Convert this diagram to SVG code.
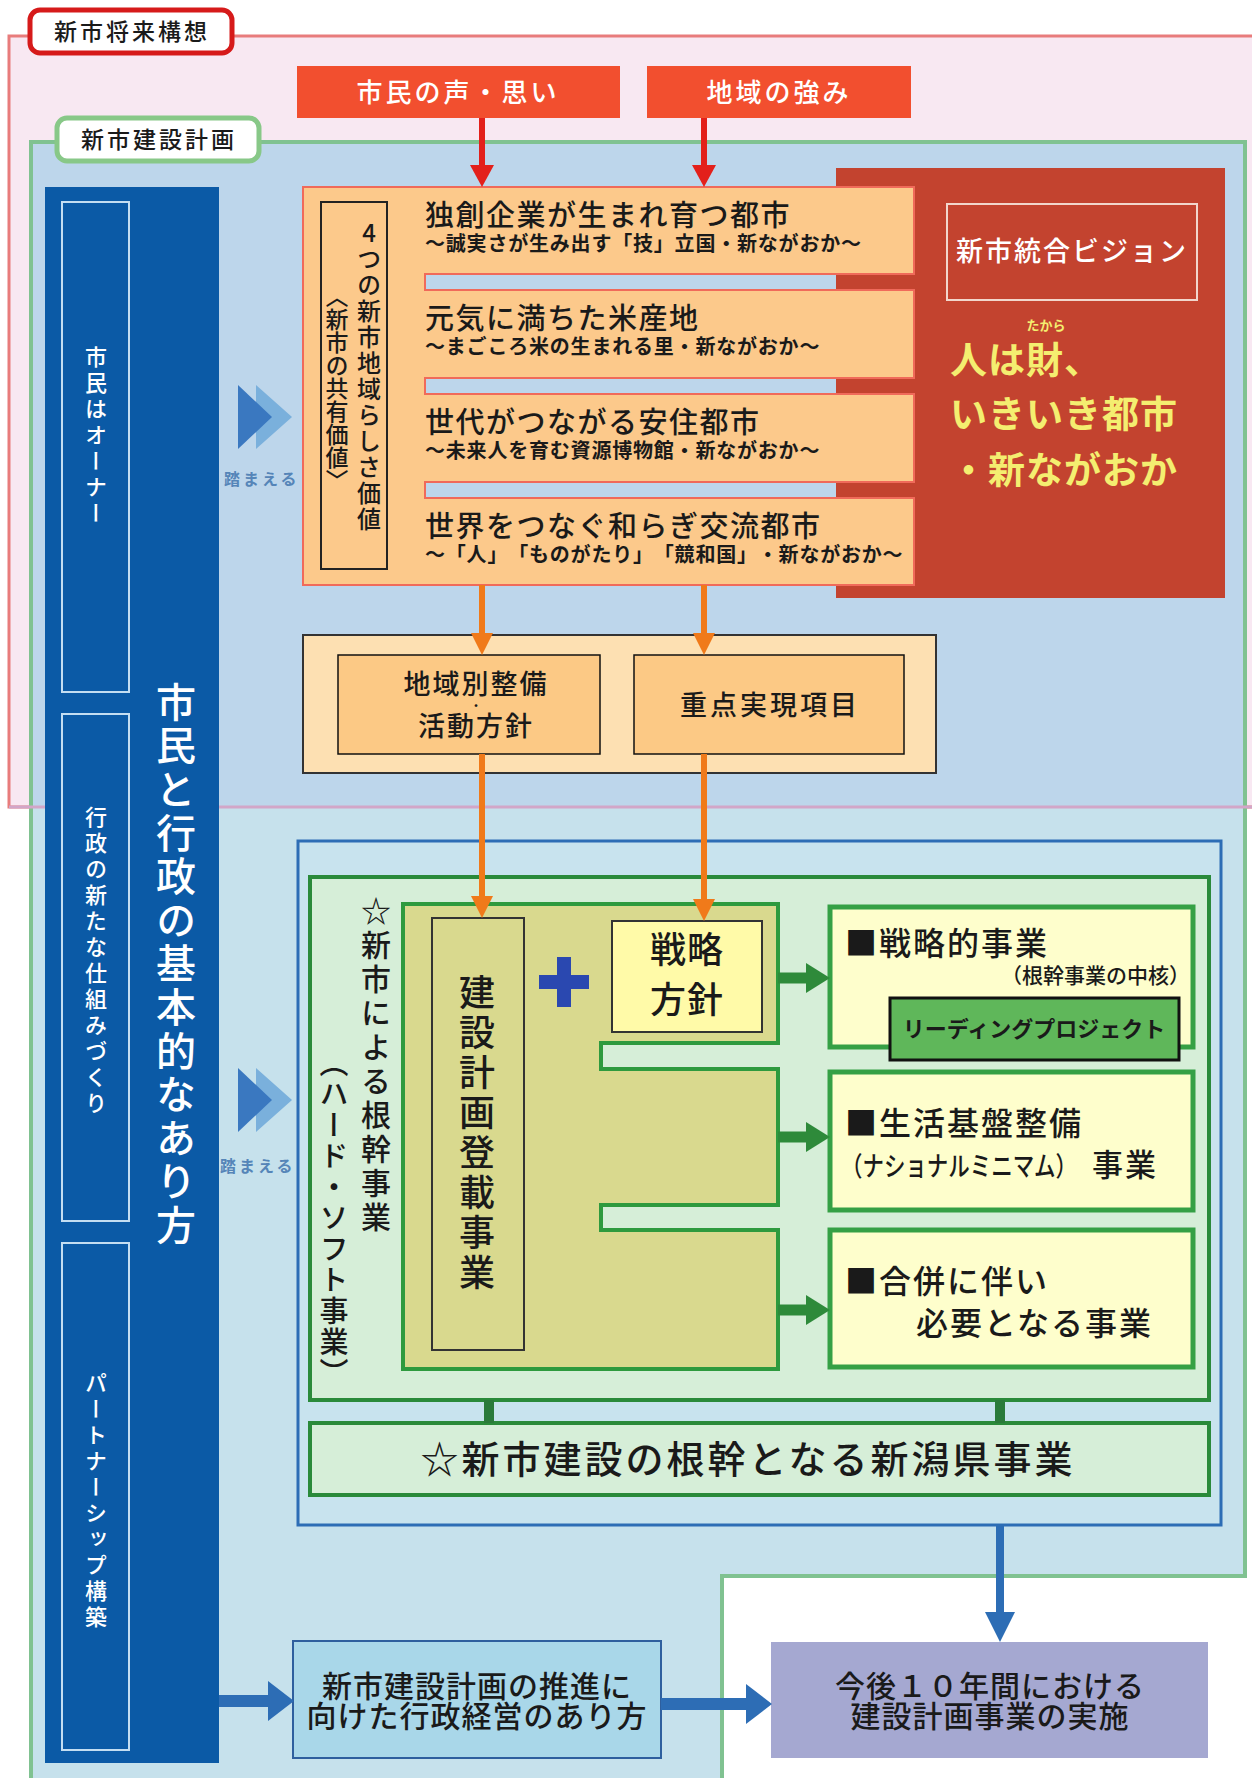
<svg xmlns="http://www.w3.org/2000/svg" width="1252" height="1778" viewBox="0 0 1252 1778">
<defs>
<style>
text{font-family:'Noto Sans CJK JP','Noto Sans CJK SC',sans-serif;fill:#1a1a1a;font-weight:500;text-spacing-trim:space-all;}
.v{writing-mode:vertical-rl;}
.up{text-orientation:upright;}
.w{fill:#fff;}
.b{font-weight:bold;}
.row{fill:#fcc98b;stroke:#f06a5a;stroke-width:2;}
.rt{font-size:29px;letter-spacing:1.5px;}
.rs{font-size:20px;font-weight:bold;letter-spacing:0.8px;}
.rbox{fill:#fefecc;stroke:#35a045;stroke-width:5;}
.rb{font-size:32px;letter-spacing:2px;}
.yel{fill:#f4ee70;font-weight:bold;}
.fumaeru{font-size:16px;font-weight:bold;letter-spacing:3px;fill:#5585b8;}
.ar-red{stroke:#e3201b;stroke-width:6;fill:none;}
.ar-or{stroke:#f07a1a;stroke-width:6;fill:none;}
.ar-gr{stroke:#2e8a3a;stroke-width:11;fill:none;}
.ar-bl{stroke:#2d6db5;fill:none;}
</style>
<marker id="hRed" markerUnits="userSpaceOnUse" markerWidth="22" markerHeight="24" viewBox="0 0 22 24" refX="0" refY="12" orient="auto"><path d="M0,0 L22,12 L0,24 Z" fill="#e3201b"/></marker>
<marker id="hOr" markerUnits="userSpaceOnUse" markerWidth="22" markerHeight="22" viewBox="0 0 22 22" refX="0" refY="11" orient="auto"><path d="M0,0 L22,11 L0,22 Z" fill="#f07a1a"/></marker>
<marker id="hGr" markerUnits="userSpaceOnUse" markerWidth="24" markerHeight="30" viewBox="0 0 24 30" refX="0" refY="15" orient="auto"><path d="M0,0 L24,15 L0,30 Z" fill="#2e8a3a"/></marker>
<marker id="hBlD" markerUnits="userSpaceOnUse" markerWidth="30" markerHeight="30" viewBox="0 0 30 30" refX="0" refY="15" orient="auto"><path d="M0,0 L30,15 L0,30 Z" fill="#2d6db5"/></marker>
<marker id="hBlH" markerUnits="userSpaceOnUse" markerWidth="26" markerHeight="40" viewBox="0 0 26 40" refX="0" refY="20" orient="auto"><path d="M0,0 L26,20 L0,40 Z" fill="#2d6db5"/></marker>
</defs>

<rect width="1252" height="1778" fill="#ffffff"/>

<g id="region-future">
<rect x="9" y="36" width="1260" height="771" fill="#f8e8f2" stroke="#e87c7c" stroke-width="3"/>
</g>
<g id="region-plan">
<path d="M31,142 H1245 V1576 H722 V1790 H31 Z" fill="#c6e1ec" stroke="#80c291" stroke-width="4"/>
<rect x="33" y="144" width="1210" height="663" fill="#bdd6eb"/>
<line x1="9" y1="807" x2="1252" y2="807" stroke="#d2a6c8" stroke-width="3"/>
</g>

<g id="label-future">
<rect x="30" y="10" width="202" height="43" rx="10" fill="#fff" stroke="#d61a1a" stroke-width="5"/>
<text x="132" y="40" font-size="23" letter-spacing="3" text-anchor="middle">新市将来構想</text>
</g>
<g id="label-plan">
<rect x="57" y="118" width="202" height="43" rx="10" fill="#fff" stroke="#88c888" stroke-width="5"/>
<text x="159" y="148" font-size="23" letter-spacing="3" text-anchor="middle">新市建設計画</text>
</g>

<g id="voice">
<rect x="297" y="66" width="323" height="52" fill="#f24f2f"/>
<text class="w" x="458" y="102" font-size="26" letter-spacing="3" text-anchor="middle">市民の声・思い</text>
</g>
<g id="strength">
<rect x="647" y="66" width="264" height="52" fill="#f24f2f"/>
<text class="w" x="779" y="102" font-size="26" letter-spacing="3" text-anchor="middle">地域の強み</text>
</g>

<g id="citizen-column">
<rect x="45" y="187" width="174" height="1576" fill="#0b5aa6"/>
<rect x="62" y="202" width="67" height="490" fill="none" stroke="#c4def2" stroke-width="2"/>
<rect x="62" y="714" width="67" height="507" fill="none" stroke="#c4def2" stroke-width="2"/>
<rect x="62" y="1243" width="67" height="507" fill="none" stroke="#c4def2" stroke-width="2"/>
<text class="v w" x="96" y="437" font-size="22" letter-spacing="4" text-anchor="middle">市民はオーナー</text>
<text class="v w" x="96" y="962" font-size="22" letter-spacing="4" text-anchor="middle">行政の新たな仕組みづくり</text>
<text class="v w" x="96" y="1502" font-size="22" letter-spacing="4" text-anchor="middle">パートナーシップ構築</text>
<text class="v w" x="176" y="965" font-size="40" letter-spacing="3.6" text-anchor="middle">市民と行政の基本的なあり方</text>
</g>

<g id="fumaeru-1">
<polygon points="256,385 292,417 256,449" fill="#7ab0dc"/>
<polygon points="238,385 272,417 238,449" fill="#3a78c0"/>
<text class="fumaeru" x="224" y="485">踏まえる</text>
</g>
<g id="fumaeru-2">
<polygon points="256,1068 292,1100 256,1132" fill="#7ab0dc"/>
<polygon points="238,1068 272,1100 238,1132" fill="#3a78c0"/>
<text class="fumaeru" x="220" y="1172">踏まえる</text>
</g>

<g id="vision">
<rect x="836" y="168" width="389" height="430" fill="#c3432f"/>
<rect x="947" y="204" width="250" height="96" fill="none" stroke="#f2d6cc" stroke-width="2"/>
<text class="w" x="1072" y="261" font-size="27" letter-spacing="2" text-anchor="middle">新市統合ビジョン</text>
<text class="yel" x="1046" y="330" font-size="13" text-anchor="middle">たから</text>
<text class="yel" x="950" y="374" font-size="37" letter-spacing="1">人は財、</text>
<text class="yel" x="950" y="428" font-size="37" letter-spacing="1">いきいき都市</text>
<text class="yel" x="950" y="484" font-size="37" letter-spacing="1">・新ながおか</text>
</g>

<g id="values">
<path class="row" d="M303,187 H914 V274 H425 V290 H914 V378 H425 V394 H914 V482 H425 V498 H914 V585 H303 Z"/>
<rect x="321" y="202" width="66" height="367" fill="none" stroke="#222" stroke-width="2"/>
<text class="v up" x="369" y="377" font-size="24" letter-spacing="2" text-anchor="middle">4つの新市地域らしさ価値</text>
<text class="v" x="337" y="388" font-size="23" text-anchor="middle">〈新市の共有価値〉</text>
<text class="rt" x="425" y="226">独創企業が生まれ育つ都市</text>
<text class="rs" x="425" y="251">～誠実さが生み出す「技」立国・新ながおか～</text>
<text class="rt" x="425" y="329">元気に満ちた米産地</text>
<text class="rs" x="425" y="354">～まごころ米の生まれる里・新ながおか～</text>
<text class="rt" x="425" y="433">世代がつながる安住都市</text>
<text class="rs" x="425" y="458">～未来人を育む資源博物館・新ながおか～</text>
<text class="rt" x="425" y="537">世界をつなぐ和らぎ交流都市</text>
<text class="rs" x="425" y="562">～「人」「ものがたり」「競和国」・新ながおか～</text>
</g>

<g id="policy">
<rect x="303" y="635" width="633" height="138" fill="#fde0b2" stroke="#333" stroke-width="2"/>
<rect x="338" y="655" width="262" height="99" fill="#fcc985" stroke="#111" stroke-width="1.5"/>
<rect x="634" y="655" width="270" height="99" fill="#fcc985" stroke="#111" stroke-width="1.5"/>
<text x="476" y="694" font-size="27" letter-spacing="2" text-anchor="middle">地域別整備</text>
<text x="476" y="711" font-size="12" text-anchor="middle">・</text>
<text x="476" y="736" font-size="27" letter-spacing="2" text-anchor="middle">活動方針</text>
<text x="770" y="715" font-size="27" letter-spacing="3" text-anchor="middle">重点実現項目</text>
</g>

<g id="core-projects">
<rect x="298" y="841" width="923" height="684" fill="#c8e3ee" stroke="#2d6db5" stroke-width="3"/>
<rect x="310" y="877" width="899" height="523" fill="#d6eed8" stroke="#2a8a3a" stroke-width="4"/>
<text class="v" x="376" y="1066" font-size="30" letter-spacing="4" text-anchor="middle">☆新市による根幹事業</text>
<text class="v" x="334" y="1219" font-size="29" letter-spacing="2" text-anchor="middle">（ハード・ソフト事業）</text>
</g>

<g id="plan-projects">
<path d="M403,904 H778 V1043 H601 V1069 H778 V1205 H601 V1230 H778 V1369 H403 Z" fill="#d9d98e" stroke="#2e9a3e" stroke-width="4"/>
<rect x="432" y="918" width="92" height="432" fill="#d9d98e" stroke="#333" stroke-width="2"/>
<text class="v" x="477" y="1134" font-size="36" letter-spacing="4" text-anchor="middle">建設計画登載事業</text>
</g>

<g id="plus">
<rect x="539" y="975" width="50" height="14" fill="#2a48b0"/>
<rect x="557" y="957" width="14" height="50" fill="#2a48b0"/>
</g>

<g id="strategy">
<rect x="612" y="921" width="150" height="111" fill="#fffaa8" stroke="#333" stroke-width="2"/>
<text x="687" y="963" font-size="36" letter-spacing="1" text-anchor="middle">戦略</text>
<text x="687" y="1013" font-size="36" letter-spacing="1" text-anchor="middle">方針</text>
</g>

<g id="strategic-business">
<rect class="rbox" x="830" y="907" width="363" height="140"/>
<text class="rb" x="845" y="955">■戦略的事業</text>
<text x="1190" y="983" font-size="21" text-anchor="end">（根幹事業の中核）</text>
<rect x="890" y="998" width="289" height="62" fill="#5fb75a" stroke="#111" stroke-width="3"/>
<text class="b" x="1034" y="1037" font-size="22" text-anchor="middle">リーディングプロジェクト</text>
</g>

<g id="life-infra">
<rect class="rbox" x="830" y="1072" width="363" height="138"/>
<text class="rb" x="845" y="1135">■生活基盤整備</text>
<text x="841" y="1176" font-size="27" textLength="236" lengthAdjust="spacingAndGlyphs">（ナショナルミニマム）</text>
<text x="1092" y="1176" font-size="31" letter-spacing="2">事業</text>
</g>

<g id="merger">
<rect class="rbox" x="830" y="1230" width="363" height="137"/>
<text class="rb" x="845" y="1293">■合併に伴い</text>
<text class="rb" x="916" y="1335">必要となる事業</text>
</g>

<g id="niigata">
<rect x="310" y="1423" width="899" height="72" fill="#d6eed8" stroke="#2a8a3a" stroke-width="4"/>
<text x="748" y="1473" font-size="38" letter-spacing="3" text-anchor="middle">☆新市建設の根幹となる新潟県事業</text>
</g>

<g id="admin">
<rect x="293" y="1641" width="368" height="117" fill="#a9d7e9" stroke="#2e5f9e" stroke-width="2"/>
<text x="477" y="1697" font-size="30" letter-spacing="1" text-anchor="middle">新市建設計画の推進に</text>
<text x="477" y="1727" font-size="30" letter-spacing="1" text-anchor="middle">向けた行政経営のあり方</text>
</g>

<g id="implementation">
<rect x="771" y="1642" width="437" height="116" fill="#a5a8d1"/>
<text x="990" y="1697" font-size="30" letter-spacing="1" text-anchor="middle">今後１０年間における</text>
<text x="990" y="1727" font-size="30" letter-spacing="1" text-anchor="middle">建設計画事業の実施</text>
</g>

<g id="connectors">
<line class="ar-red" x1="482" y1="118" x2="482" y2="165" marker-end="url(#hRed)"/>
<line class="ar-red" x1="704" y1="118" x2="704" y2="165" marker-end="url(#hRed)"/>
<line class="ar-or" x1="482" y1="585" x2="482" y2="633" marker-end="url(#hOr)"/>
<line class="ar-or" x1="704" y1="585" x2="704" y2="633" marker-end="url(#hOr)"/>
<line class="ar-or" x1="482" y1="754" x2="482" y2="896" marker-end="url(#hOr)"/>
<line class="ar-or" x1="704" y1="754" x2="704" y2="899" marker-end="url(#hOr)"/>
<line class="ar-gr" x1="778" y1="978" x2="806" y2="978" marker-end="url(#hGr)"/>
<line class="ar-gr" x1="778" y1="1137" x2="806" y2="1137" marker-end="url(#hGr)"/>
<line class="ar-gr" x1="778" y1="1310" x2="806" y2="1310" marker-end="url(#hGr)"/>
<rect x="484" y="1400" width="10" height="23" fill="#2a7a3a"/>
<rect x="995" y="1400" width="10" height="23" fill="#2a7a3a"/>
<line class="ar-bl" x1="1000" y1="1525" x2="1000" y2="1612" stroke-width="8" marker-end="url(#hBlD)"/>
<line class="ar-bl" x1="219" y1="1701" x2="268" y2="1701" stroke-width="12" marker-end="url(#hBlH)"/>
<line class="ar-bl" x1="661" y1="1704" x2="746" y2="1704" stroke-width="12" marker-end="url(#hBlH)"/>
</g>
</svg>
